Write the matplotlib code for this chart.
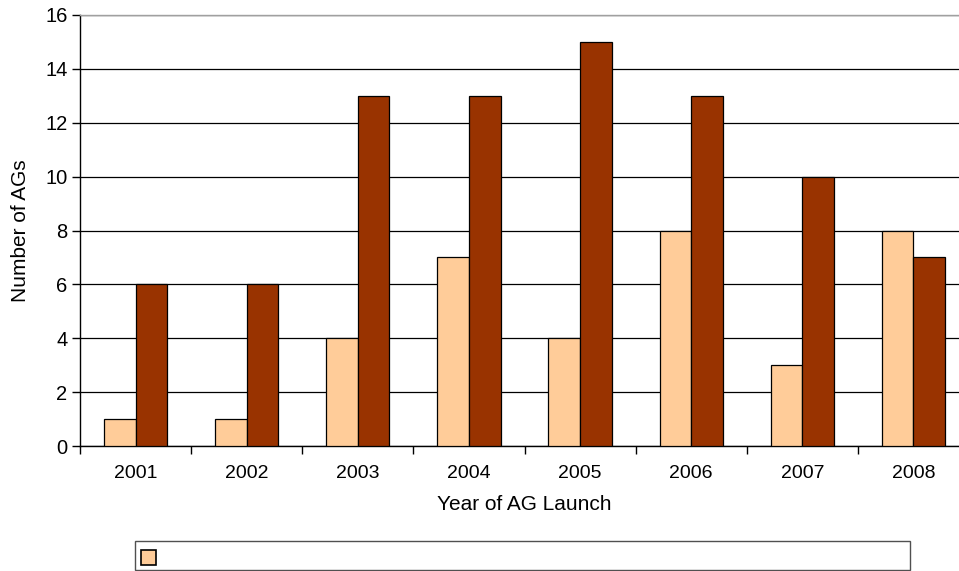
import numpy as np
import matplotlib.pyplot as plt
from matplotlib.patches import Rectangle

years = ['2001', '2002', '2003', '2004', '2005', '2006', '2007', '2008']
series_light = [1, 1, 4, 7, 4, 8, 3, 8]
series_dark = [6, 6, 13, 13, 15, 13, 10, 7]
y_ticks = [0, 2, 4, 6, 8, 10, 12, 14, 16]

plt.rcParams['font.family'] = ['Liberation Sans', 'DejaVu Sans']

W, H = 959, 571
fig = plt.figure(figsize=(W / 100, H / 100), dpi=100)
# plot area runs past the right edge of the image
ax = fig.add_axes([80 / W, (H - 446) / H, (969 - 80) / W, (446 - 15) / H])

x = np.arange(len(years))
bw = 0.285
ax.bar(x - bw / 2, series_light, bw, color='#FFCC99', edgecolor='black', linewidth=0.9, zorder=3)
ax.bar(x + bw / 2, series_dark, bw, color='#993300', edgecolor='black', linewidth=0.9, zorder=3)

ax.set_xlim(-0.5, len(years) - 0.5)
ax.set_ylim(0, 16)
ax.set_yticks(y_ticks)
ax.yaxis.grid(True, color='black', linewidth=0.9, zorder=0)
ax.set_axisbelow(True)

# category boundaries carry the tick marks, centres carry the labels
ax.set_xticks(np.arange(len(years) + 1) - 0.5)
ax.set_xticklabels([])
ax.set_xticks(x, minor=True)
ax.set_xticklabels(years, minor=True)
ax.tick_params(axis='x', which='major', length=6, color='black', width=1)
ax.tick_params(axis='x', which='minor', length=0, pad=14, labelsize=14)
ax.tick_params(axis='y', length=6, width=1, labelsize=14.5, pad=3)

for s in ['left', 'bottom']:
    ax.spines[s].set_color('black')
    ax.spines[s].set_linewidth(1)
ax.spines['top'].set_color('#a0a0a0')
ax.spines['top'].set_linewidth(1)
ax.spines['right'].set_visible(False)

ax.set_xlabel('Year of AG Launch', fontsize=15, labelpad=9)
ax.set_ylabel('Number of AGs', fontsize=15, labelpad=11)

# legend box along the bottom
fig.patches.append(Rectangle((135 / W, 1 / H), (910 - 135) / W, 29 / H,
                             transform=fig.transFigure, facecolor='white',
                             edgecolor='#505050', linewidth=1))
fig.patches.append(Rectangle((141 / W, (H - 565) / H), 15 / W, 15 / H,
                             transform=fig.transFigure, facecolor='#FFCC99',
                             edgecolor='black', linewidth=1.2))

fig.savefig('out.png', dpi=100)
